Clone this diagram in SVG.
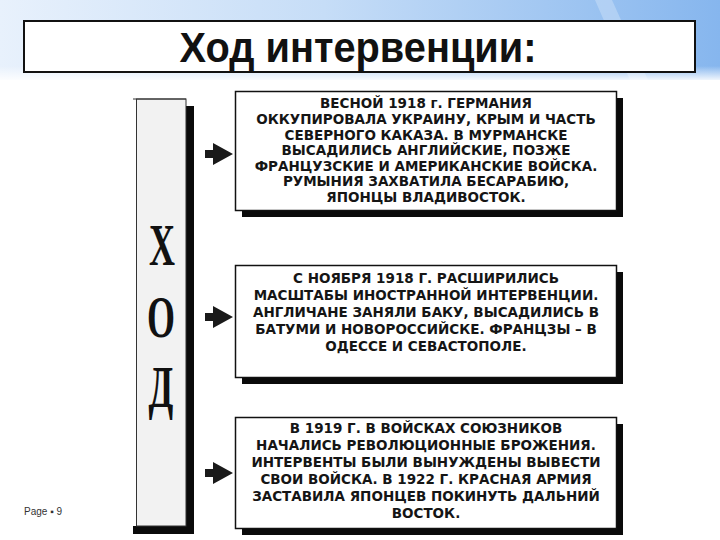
<svg xmlns="http://www.w3.org/2000/svg" width="720" height="540" viewBox="0 0 720 540">
<defs>
<linearGradient id="bg" x1="0" y1="0" x2="1" y2="0">
<stop offset="0" stop-color="#e8f1fc"/>
<stop offset="0.45" stop-color="#c6ddf7"/>
<stop offset="1" stop-color="#86b6ee"/>
</linearGradient>
<linearGradient id="fade" x1="0" y1="0" x2="0" y2="1">
<stop offset="0" stop-color="#ffffff" stop-opacity="0"/>
<stop offset="1" stop-color="#ffffff" stop-opacity="1"/>
</linearGradient>
<style>
.box{fill:#ffffff;stroke:#111111;stroke-width:1.5}
.sh{fill:#0a0a0a}
.t{font-family:"DejaVu Sans",Verdana,sans-serif;font-weight:bold;font-size:13.5px;fill:#151515;text-anchor:middle}
.big{font-family:"Liberation Serif","Times New Roman",serif;font-weight:bold;font-size:60px;fill:#111111;text-anchor:middle}
.arr{fill:#1a1a1a}
</style>
</defs>
<rect width="720" height="540" fill="#ffffff"/>
<rect x="0" y="0" width="720" height="80" fill="url(#bg)"/>
<polygon points="595,0 612,0 648,80 630,80" fill="#ffffff" opacity="0.25"/>
<rect x="0" y="66" width="720" height="16" fill="url(#fade)"/>

<g id="title">
<rect x="24" y="21" width="671" height="51" fill="#ffffff" stroke="#111111" stroke-width="2"/>
<text x="358" y="62" font-family="Liberation Sans, Arial, sans-serif" font-weight="bold" font-size="42" fill="#111111" text-anchor="middle" textLength="357" lengthAdjust="spacingAndGlyphs">Ход интервенции:</text>
</g>

<g id="column">
<rect x="133" y="526" width="60" height="8" class="sh"/>
<rect x="186" y="106" width="8" height="428" class="sh"/>
<rect x="136.5" y="99" width="49.5" height="427" fill="#f2f2f2" stroke="#333333" stroke-width="1"/>
<line x1="133" y1="99" x2="186" y2="99" stroke="#333333" stroke-width="1"/>
<text class="big" transform="translate(162,265) scale(0.6,1)">Х</text>
<text class="big" transform="translate(161,337) scale(0.6,1)">О</text>
<text class="big" transform="translate(161,407) scale(0.6,1)">Д</text>
</g>

<g id="connectors">
<polygon class="arr" points="205,150 213,150 213,143 233,154 213,165 213,158 205,158"/>
<polygon class="arr" points="205,313 213,313 213,306 233,317 213,328 213,321 205,321"/>
<polygon class="arr" points="205,469 213,469 213,462 233,473 213,484 213,477 205,477"/>
</g>

<g id="box1">
<rect x="242" y="98" width="381" height="119" class="sh"/>
<rect x="235.5" y="91.5" width="381" height="119" class="box"/>
<text class="t" x="426" y="108">ВЕСНОЙ 1918 г.  ГЕРМАНИЯ</text>
<text class="t" x="426" y="124">ОККУПИРОВАЛА УКРАИНУ, КРЫМ И ЧАСТЬ</text>
<text class="t" x="426" y="139.5">СЕВЕРНОГО КАКАЗА. В МУРМАНСКЕ</text>
<text class="t" x="426" y="155">ВЫСАДИЛИСЬ АНГЛИЙСКИЕ, ПОЗЖЕ</text>
<text class="t" x="426" y="170.5">ФРАНЦУЗСКИЕ И АМЕРИКАНСКИЕ ВОЙСКА.</text>
<text class="t" x="426" y="186">РУМЫНИЯ ЗАХВАТИЛА БЕСАРАБИЮ,</text>
<text class="t" x="426" y="202">ЯПОНЦЫ ВЛАДИВОСТОК.</text>
</g>

<g id="box2">
<rect x="242" y="272" width="381" height="112" class="sh"/>
<rect x="235.5" y="265.5" width="381" height="112" class="box"/>
<text class="t" x="426" y="283">С НОЯБРЯ 1918 Г. РАСШИРИЛИСЬ</text>
<text class="t" x="426" y="300">МАСШТАБЫ ИНОСТРАННОЙ ИНТЕРВЕНЦИИ.</text>
<text class="t" x="426" y="317">АНГЛИЧАНЕ ЗАНЯЛИ БАКУ, ВЫСАДИЛИСЬ В</text>
<text class="t" x="426" y="334">БАТУМИ И НОВОРОССИЙСКЕ. ФРАНЦЗЫ – В</text>
<text class="t" x="426" y="351">ОДЕССЕ И СЕВАСТОПОЛЕ.</text>
</g>

<g id="box3">
<rect x="242" y="424" width="381" height="111" class="sh"/>
<rect x="235.5" y="417.5" width="381" height="111" class="box"/>
<text class="t" x="426" y="433">В 1919 Г. В ВОЙСКАХ СОЮЗНИКОВ</text>
<text class="t" x="426" y="450">НАЧАЛИСЬ РЕВОЛЮЦИОННЫЕ БРОЖЕНИЯ.</text>
<text class="t" x="426" y="467">ИНТЕРВЕНТЫ БЫЛИ ВЫНУЖДЕНЫ ВЫВЕСТИ</text>
<text class="t" x="426" y="484">СВОИ ВОЙСКА. В 1922 Г. КРАСНАЯ АРМИЯ</text>
<text class="t" x="426" y="501">ЗАСТАВИЛА ЯПОНЦЕВ ПОКИНУТЬ ДАЛЬНИЙ</text>
<text class="t" x="426" y="518">ВОСТОК.</text>
</g>

<text x="24" y="515" font-family="Liberation Sans, Arial, sans-serif" font-size="10" fill="#333333">Page ▪ 9</text>
</svg>
